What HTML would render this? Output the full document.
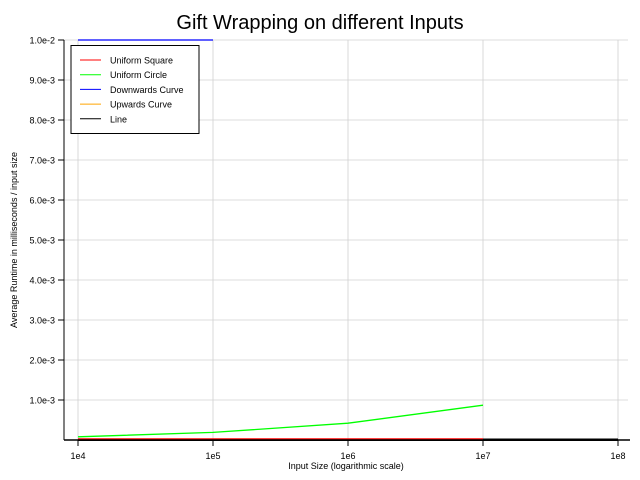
<!DOCTYPE html>
<html><head><meta charset="utf-8"><style>
body{margin:0;background:#fff;}
svg{display:block;font-family:"Liberation Sans",Arial,sans-serif;}
</style></head><body>
<svg id="chart" width="640" height="480">
<text x="320" y="29" text-anchor="middle" font-size="20">Gift Wrapping on different Inputs</text>
<g id="grid"></g><g id="series"></g><g id="axes"></g>
<text x="346" y="469" text-anchor="middle" font-size="9">Input Size (logarithmic scale)</text>
<text transform="translate(17,240) rotate(-90)" text-anchor="middle" font-size="9">Average Runtime in milliseconds / input size</text>
<g id="legend"></g>
</svg>
<script>
const xCats = [1e4, 1e5, 1e6, 1e7, 1e8];
const xTickLabels = ["1e4","1e5","1e6","1e7","1e8"];
const yTicks = [0.001,0.002,0.003,0.004,0.005,0.006,0.007,0.008,0.009,0.01];
const yTickLabels = ["1.0e-3","2.0e-3","3.0e-3","4.0e-3","5.0e-3","6.0e-3","7.0e-3","8.0e-3","9.0e-3","1.0e-2"];
const seriesNames = ["Uniform Square","Uniform Circle","Downwards Curve","Upwards Curve","Line"];
const seriesColors = ["#ff0000","#00ff00","#0000ff","#ffa500","#000000"];
const squareVals = [0.00002,0.00002,0.00002,0.00002];
const circleVals = [0.00008,0.00019,0.00042,0.00087];
const downVals = [0.05,0.05];
const upVals = [0.00001,0.00001,0.00001,0.00001];
const lineVals = [0.000005,0.000005,0.000005,0.000005,0.000005];
const allVals = [squareVals,circleVals,downVals,upVals,lineVals];

const NS="http://www.w3.org/2000/svg";
const L=64,R=628,T=40,B=440;
const X0=78,DEC=135;
function xs(v){return X0+(Math.log10(v)-4)*DEC;}
function ys(v){return B-v*40000;}
function mk(tag,attrs,parent){const e=document.createElementNS(NS,tag);for(const k in attrs)e.setAttribute(k,attrs[k]);parent.appendChild(e);return e;}
const grid=document.getElementById('grid'),axes=document.getElementById('axes'),ser=document.getElementById('series'),leg=document.getElementById('legend');
xCats.forEach((c,i)=>{
  const x=xs(c);
  const g=mk('line',{x1:x,x2:x,y1:T,y2:B,stroke:'#d0d0d0','stroke-width':0.8},grid);
  
  
  const t=mk('line',{x1:x,x2:x,y1:B,y2:B+6,stroke:'#000','stroke-width':1},axes);
  
  
  const tx=mk('text',{x:x,y:B+19,'text-anchor':'middle','font-size':9},axes);
  tx.textContent=xTickLabels[i];
  
  
});
yTicks.forEach((v,i)=>{
  const y=ys(v);
  const g=mk('line',{x1:L,x2:R,y1:y,y2:y,stroke:'#d0d0d0','stroke-width':0.8},grid);
  
  
  const t=mk('line',{x1:L-6,x2:L,y1:y,y2:y,stroke:'#000','stroke-width':1},axes);
  
  
  const tx=mk('text',{x:L-9,y:y+3.5,'text-anchor':'end','font-size':9},axes);
  tx.textContent=yTickLabels[i];
  
  
});
const ya=mk('line',{x1:L,x2:L,y1:T,y2:B,stroke:'#000','stroke-width':1},axes);


const xa=mk('line',{x1:L,x2:R+2,y1:B,y2:B,stroke:'#000','stroke-width':1.5},axes);


const order=[4,3,1,0,2];
order.forEach(si=>{
  const vals=allVals[si];
  const pts=vals.map((v,i)=>xs(xCats[i])+','+Math.max(T,ys(v))).join(' ');
  const p=mk('polyline',{points:pts,fill:'none',stroke:seriesColors[si],'stroke-width':si==4?2.5:(si==0?2:1.3)},ser);
  
  
});
const box=mk('rect',{x:71,y:45.5,width:128,height:88,fill:'#fff',stroke:'#000','stroke-width':1},leg);


seriesNames.forEach((n,i)=>{
  const y=60+i*14.7;
  const l=mk('line',{x1:80,x2:101,y1:y,y2:y,stroke:seriesColors[i],'stroke-width':1},leg);
  
  
  const t=mk('text',{x:110,y:y+3.5,'font-size':9},leg);
  t.textContent=n;
  
  
});
</script>
</body></html>
